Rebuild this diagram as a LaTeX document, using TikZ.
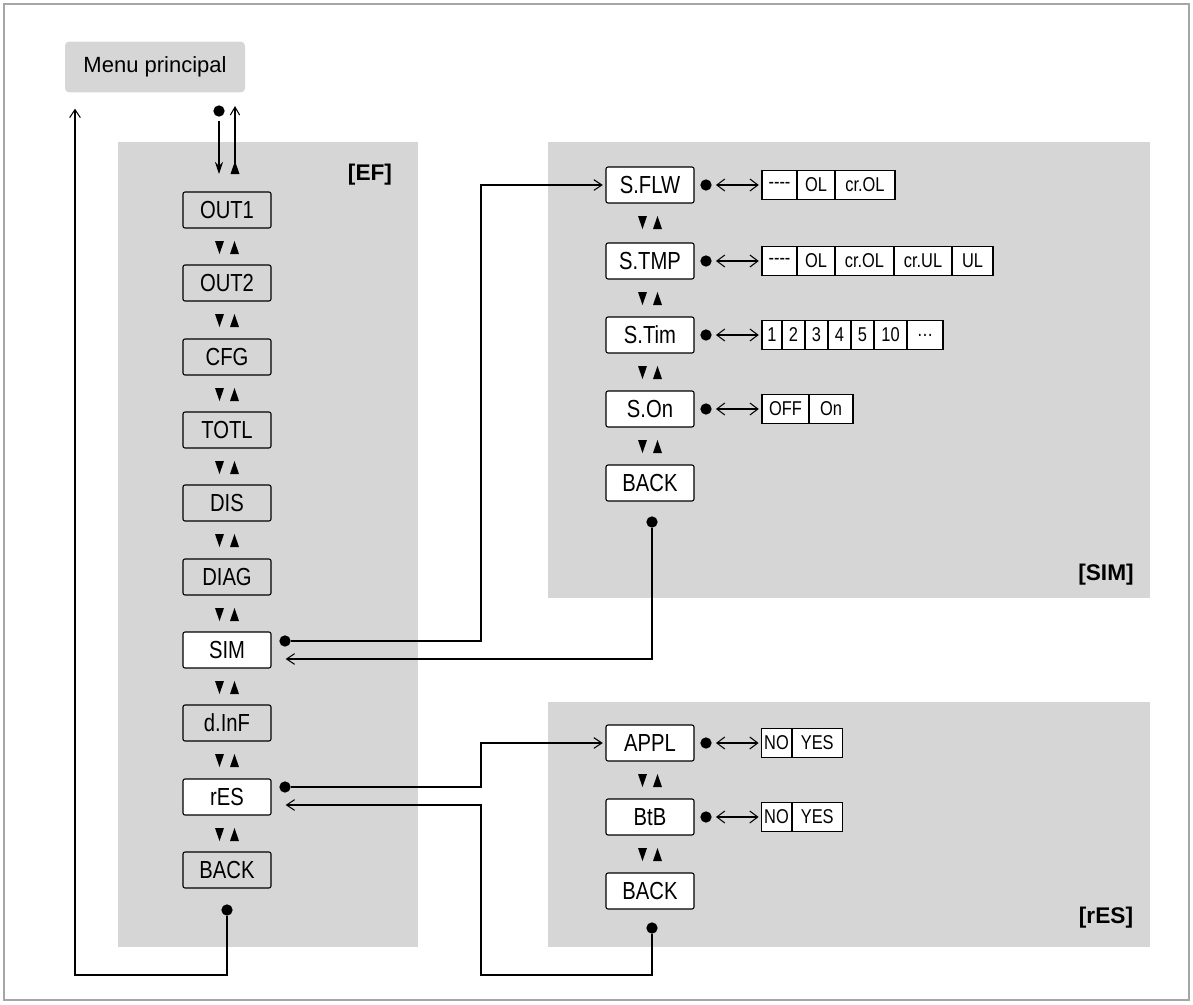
\documentclass[tikz,border=0pt]{standalone}
\usepackage{fontspec}
\setmainfont{Liberation Sans}
\newfontfamily\narrowfont{Liberation Sans}[FakeStretch=0.82]
\usetikzlibrary{positioning,arrows.meta}
\definecolor{panelgray}{RGB}{214,214,214}

\tikzset{%
	updn/.pic={\fill (-12,-6) -- (-3,-6) -- (-7.5,7) -- cycle;
		\fill (3,7) -- (12,7) -- (7.5,-6) -- cycle;},%
}

\begin{document}
\begin{tikzpicture}[%
	x=0.75pt,y=-0.75pt,%
	panel/.style ={fill=panelgray, draw=none},%
	item/.style ={draw, thick, rounded corners=1.5pt, fill=panelgray, minimum width=66pt, minimum height=27pt, inner sep=0pt, font=\narrowfont\fontsize{18.5}{18.5}\selectfont},%
	wide/.style ={item, minimum width=66pt, fill=white},%
	opt/.style ={draw, thick, fill=white, minimum height=22pt, inner sep=0pt, font=\narrowfont\fontsize{15}{15}\selectfont},%
	dot/.style ={circle, fill, inner sep=0pt, minimum size=8.5pt},%
	link/.style ={thick, shorten >=2pt, -{Straight Barb[length=6pt,width=8pt]}},%
	swap/.style ={thick, shorten >=2pt, shorten <=3pt, {Straight Barb[length=6pt,width=9pt]}-{Straight Barb[length=6pt,width=9pt]}},%
	tag/.style ={font=\bfseries\fontsize{17}{17}\selectfont},%
	]
\useasboundingbox (0,0) rectangle (1193,1004);
\draw [gray!70, thick] (4,4) rectangle (1189,1000);
%%% panels
	\fill [panel] (118,142) rectangle (418,947);
	\fill [panel] (548,142) rectangle (1150,598);
	\fill [panel] (548,702) rectangle (1150,947);
	\node [tag] (tef) at (370,175) {[EF]};
	\node [tag] (tsim) at (1106,575) {[SIM]};
	\node [tag] (tres) at (1106,918) {[rES]};
%%% panels
%%% main menu
	\node [fill=panelgray, rounded corners=3pt, minimum width=135pt, minimum height=38pt, font=\fontsize{16.5}{16.5}\selectfont] (menu) at (155,67) {Menu principal};
	\node [dot] (dmenu) at (219,111) {};
	\coordinate (down) at (219,174);
	\coordinate (uptop) at (235,106);
	\coordinate (upbot) at (235,166);
	\draw [thick, shorten <=3pt, -{Stealth[length=9pt,width=6pt]}] (dmenu) -- (down);
	\draw [thick, -{Straight Barb[length=6pt,width=7pt]}] (upbot) -- (uptop);
	\fill (230.5,174) -- (239.5,174) -- (235,161) -- cycle;
%%% main menu
%%% EF list
	\foreach \key/\name/\y/\kind in {o1/OUT1/210/item,o2/OUT2/283/item,cfg/CFG/357/item,totl/TOTL/430/item,dis/DIS/503/item,diag/DIAG/577/item,sim/SIM/650/wide,dinf/d.InF/723/item,res/rES/797/wide}
		{\node [\kind] (ef-\key) at (227,\y) {\name};
		 \pic at (227,\y+37) {updn};}
	\node [item] (ef-back) at (227,870) {BACK};
	\node [dot] (dback) at (227,910) {};
	\node [dot] (dsim) at (285,641) {};
	\node [dot] (dres) at (285,787) {};
	\coordinate (simin) at (283,659);
	\coordinate (resin) at (283,805);
%%% EF list
%%% SIM list
	\foreach \key/\name/\y in {flw/S.FLW/185,tmp/S.TMP/261,tim/S.Tim/335,on/S.On/409}
		{\node [wide] (sim-\key) at (650,\y) {\name};
		 \pic at (650,\y+37) {updn};
		 \node [dot] (dsim-\key) at (706,\y) {};}
	\node [wide] (sim-back) at (650,483) {BACK};
	\node [dot] (dsimback) at (652,522) {};
	% options
	\foreach \l/\a/\b in {----/762/797,OL/797/835,cr.OL/835/895}
		{\node [opt, minimum width={(\b-\a)*0.75pt}] (flw-\a) at ({(\a+\b)/2},185) {\l};}
	\foreach \l/\a/\b in {----/762/797,OL/797/835,cr.OL/835/894,cr.UL/894/952,UL/952/993}
		{\node [opt, minimum width={(\b-\a)*0.75pt}] (tmp-\a) at ({(\a+\b)/2},261) {\l};}
	\foreach \l/\a/\b in {1/762/782,2/782/805,3/805/828,4/828/851,5/851/874,10/874/907,\ldots/907/943}
		{\node [opt, minimum width={(\b-\a)*0.75pt}] (tim-\a) at ({(\a+\b)/2},335) {\l};}
	\foreach \l/\a/\b in {OFF/762/809,On/809/853}
		{\node [opt, minimum width={(\b-\a)*0.75pt}] (on-\a) at ({(\a+\b)/2},409) {\l};}
	\draw [swap] (dsim-flw) -- (flw-762);
	\draw [swap] (dsim-tmp) -- (tmp-762);
	\draw [swap] (dsim-tim) -- (tim-762);
	\draw [swap] (dsim-on) -- (on-762);
%%% SIM list
%%% rES list
	\foreach \key/\name/\y in {appl/APPL/743,btb/BtB/817}
		{\node [wide] (res-\key) at (650,\y) {\name};
		 \pic at (650,\y+37) {updn};
		 \node [dot] (dres-\key) at (706,\y) {};}
	\node [wide] (res-back) at (650,891) {BACK};
	\node [dot] (dresback) at (652,928) {};
	\foreach \r/\y in {a/743,b/817}
		{\node [opt, minimum width=22pt] (no-\r) at (776.5,\y) {NO};
		 \node [opt, minimum width=37.5pt, right=0pt of no-\r] (yes-\r) {YES};}
	\draw [swap] (dres-appl) -- (no-a);
	\draw [swap] (dres-btb) -- (no-b);
%%% rES list
%%% links
	\draw [link] (dsim.east) -- (481,641) |- (sim-flw.west);
	\draw [link] (dsimback) |- (simin);
	\draw [link] (dres.east) -- (481,787) |- (res-appl.west);
	\draw [link] (dresback) -- (652,975) -| (481,805) -- (resin);
	\draw [link] (dback) -- (227,975) -| (75,106);
%%% links
\end{tikzpicture}
\end{document}
